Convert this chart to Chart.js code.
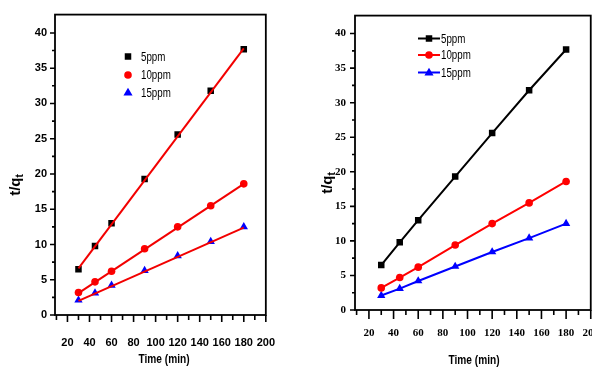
<!DOCTYPE html>
<html><head><meta charset="utf-8">
<script src="https://cdn.jsdelivr.net/npm/chart.js@4.4.0/dist/chart.umd.min.js"></script>
<style>
html,body{margin:0;padding:0;background:#fff;overflow:hidden;width:592px;height:369px;position:relative;}
#c1{position:absolute;left:0;top:0;}
#c2{position:absolute;left:296px;top:0;}
</style></head><body>
<canvas id="c1" width="296" height="369"></canvas>
<canvas id="c2" width="320" height="369"></canvas>
<script>
// ---- data ----
const times = [30, 45, 60, 90, 120, 150, 180];
const q5  = [6.5, 9.8, 13.0, 19.3, 25.6, 31.8, 37.7];
const q10 = [3.2, 4.7, 6.2, 9.4, 12.5, 15.5, 18.6];
const q15 = [2.1, 3.1, 4.2, 6.3, 8.4, 10.4, 12.5];
const fitX  = [30, 180];
const fit5  = [6.6, 37.8];
const fit10 = [3.1, 18.6];
const fit15 = [2.0, 12.4];
const seriesLabels = ['5ppm', '10ppm', '15ppm'];
const xTickLabels = [20, 40, 60, 80, 100, 120, 140, 160, 180, 200];
const xMinorTicks = [10, 30, 50, 70, 90, 110, 130, 150, 170, 190];
const yTickLabels = [0, 5, 10, 15, 20, 25, 30, 35, 40];
const yMinorTicks = [2.5, 7.5, 12.5, 17.5, 22.5, 27.5, 32.5, 37.5];
const xTitle = 'Time (min)';

const colors = ['#000000', '#ff0000', '#0000ff'];
const styles = ['rect', 'circle', 'triangle'];
const radii = [4.6, 3.8, 4.8];

function pts(xs, ys) { return xs.map((x, i) => ({x: x, y: ys[i]})); }

function marker(ctx, style, x, y, r, color) {
  ctx.save();
  ctx.fillStyle = color;
  ctx.beginPath();
  if (style === 'rect') {
    const s = r * Math.SQRT1_2;
    ctx.rect(x - s, y - s, 2 * s, 2 * s);
  } else if (style === 'circle') {
    ctx.arc(x, y, r, 0, Math.PI * 2);
  } else {
    ctx.moveTo(x, y - r);
    ctx.lineTo(x + r * 0.95, y + r * 0.6);
    ctx.lineTo(x - r * 0.95, y + r * 0.6);
    ctx.closePath();
  }
  ctx.fill();
  ctx.restore();
}

function narrowText(ctx, text, x, y, sx) {
  ctx.save();
  ctx.translate(x, y);
  ctx.scale(sx, 1);
  ctx.fillText(text, 0, 0);
  ctx.restore();
}

const originPlugin = {
  id: 'originLook',
  afterDraw(chart, args, o) {
    const ctx = chart.ctx, a = chart.chartArea;
    const xs = chart.scales.x, ys = chart.scales.y;
    ctx.save();
    ctx.strokeStyle = '#000';
    // frame
    ctx.lineWidth = 1.8;
    ctx.strokeRect(a.left, a.top, a.right - a.left, a.bottom - a.top);
    // ticks
    ctx.lineWidth = 1.6;
    ctx.beginPath();
    xTickLabels.forEach(v => { const p = xs.getPixelForValue(v); ctx.moveTo(p, a.bottom); ctx.lineTo(p, a.bottom + o.xMajor); });
    xMinorTicks.forEach(v => { const p = xs.getPixelForValue(v); if (p >= a.left - 0.5) { ctx.moveTo(p, a.bottom); ctx.lineTo(p, a.bottom + o.xMinor); } });
    yTickLabels.forEach(v => { const p = ys.getPixelForValue(v); ctx.moveTo(a.left, p); ctx.lineTo(a.left - o.yMajor, p); });
    yMinorTicks.forEach(v => { const p = ys.getPixelForValue(v); ctx.moveTo(a.left, p); ctx.lineTo(a.left - o.yMinor, p); });
    ctx.stroke();
    // x title
    ctx.fillStyle = '#000';
    ctx.font = 'bold 13px "Liberation Sans", Arial, sans-serif';
    ctx.textAlign = 'center';
    ctx.textBaseline = 'middle';
    narrowText(ctx, xTitle, o.xTitleX, o.xTitleY, 0.78);
    // y title with subscript
    ctx.save();
    ctx.translate(o.yTitleX, o.yTitleY);
    ctx.rotate(-Math.PI / 2);
    const big = 'bold 15px "Liberation Sans", Arial, sans-serif';
    const small = 'bold 10px "Liberation Sans", Arial, sans-serif';
    ctx.font = big; const w1 = ctx.measureText('t/q').width;
    ctx.font = small; const w2 = ctx.measureText('t').width;
    const start = -(w1 + w2) / 2;
    ctx.textAlign = 'left';
    ctx.textBaseline = 'alphabetic';
    ctx.font = big; ctx.fillText('t/q', start, 5);
    ctx.font = small; ctx.fillText('t', start + w1, 8);
    ctx.restore();
    // legend
    ctx.font = '13px "Liberation Sans", Arial, sans-serif';
    ctx.textAlign = 'left';
    ctx.textBaseline = 'middle';
    seriesLabels.forEach((lab, i) => {
      const y = o.legY[i];
      if (o.legLine) {
        ctx.strokeStyle = colors[i];
        ctx.lineWidth = 2;
        ctx.beginPath();
        ctx.moveTo(o.legX0, y); ctx.lineTo(o.legX1, y);
        ctx.stroke();
        marker(ctx, styles[i], (o.legX0 + o.legX1) / 2, y, radii[i], colors[i]);
      } else {
        marker(ctx, styles[i], o.legMX, y, radii[i], colors[i]);
      }
      ctx.fillStyle = '#000';
      narrowText(ctx, lab, o.legTX, y + 0.5, 0.75);
    });
    ctx.restore();
  }
};

function scalesFor(cfg) {
  return {
    x: {
      type: 'linear', min: 8.7, max: 200,
      afterBuildTicks: s => { s.ticks = xTickLabels.map(v => ({value: v})); },
      afterFit: s => { s.height = cfg.xHeight; },
      grid: {display: false, drawTicks: false},
      border: {display: false},
      ticks: {padding: cfg.xPad, color: '#000', font: cfg.tickFont, maxRotation: 0, autoSkip: false,
        callback: v => String(v)}
    },
    y: {
      type: 'linear', min: 0, max: 42.6,
      afterBuildTicks: s => { s.ticks = yTickLabels.map(v => ({value: v})); },
      afterFit: s => { s.width = cfg.yWidth; },
      grid: {display: false, drawTicks: false},
      border: {display: false},
      ticks: {padding: cfg.yPad, color: '#000', font: cfg.tickFont, autoSkip: false,
        callback: v => String(v)}
    }
  };
}

const seriesData = [q5, q10, q15];
const fitData = [fit5, fit10, fit15];

// ---- left chart: scatter + red linear fits ----
const leftDatasets = [];
fitData.forEach(f => leftDatasets.push({
  data: pts(fitX, f), showLine: true, borderColor: '#f20000', borderWidth: 2,
  pointRadius: 0, fill: false
}));
seriesData.forEach((d, i) => leftDatasets.push({
  data: pts(times, d), showLine: false, pointStyle: styles[i], pointRadius: radii[i],
  backgroundColor: colors[i], borderColor: colors[i], borderWidth: 0
}));

new Chart(document.getElementById('c1'), {
  type: 'scatter',
  data: {datasets: leftDatasets},
  options: {
    responsive: false, animation: false, events: [],
    layout: {padding: {top: 14, right: 13, left: 0, bottom: 0}},
    plugins: {
      legend: {display: false}, tooltip: {enabled: false},
      originLook: {xMajor: 7, xMinor: 5, yMajor: 5, yMinor: 3,
        xTitleX: 164, xTitleY: 359, yTitleX: 15, yTitleY: 185,
        legLine: false, legMX: 128, legTX: 141, legY: [56.5, 75, 92.5]}
    },
    scales: scalesFor({xHeight: 54, yWidth: 55, xPad: 21, yPad: 8,
      tickFont: {family: '"Liberation Sans", Arial, sans-serif', size: 11, weight: 'bold'}})
  },
  plugins: [originPlugin]
});

// ---- right chart: line + symbol ----
const rightDatasets = seriesData.map((d, i) => ({
  data: pts(times, d), showLine: true, borderColor: colors[i], borderWidth: 2,
  pointStyle: styles[i], pointRadius: radii[i], backgroundColor: colors[i],
  pointBorderWidth: 0, fill: false
}));

new Chart(document.getElementById('c2'), {
  type: 'scatter',
  data: {datasets: rightDatasets},
  options: {
    responsive: false, animation: false, events: [],
    layout: {padding: {top: 13, right: 24.7, left: 0, bottom: 0}},
    plugins: {
      legend: {display: false}, tooltip: {enabled: false},
      originLook: {xMajor: 9, xMinor: 5, yMajor: 5, yMinor: 3,
        xTitleX: 178, xTitleY: 360, yTitleX: 31, yTitleY: 183,
        legLine: true, legX0: 122, legX1: 144, legTX: 145, legY: [38.5, 55, 72.5]}
    },
    scales: scalesFor({xHeight: 59, yWidth: 59, xPad: 17, yPad: 9,
      tickFont: {family: '"Liberation Serif", "Times New Roman", serif', size: 11, weight: 'bold'}})
  },
  plugins: [originPlugin]
});
</script>
</body></html>
